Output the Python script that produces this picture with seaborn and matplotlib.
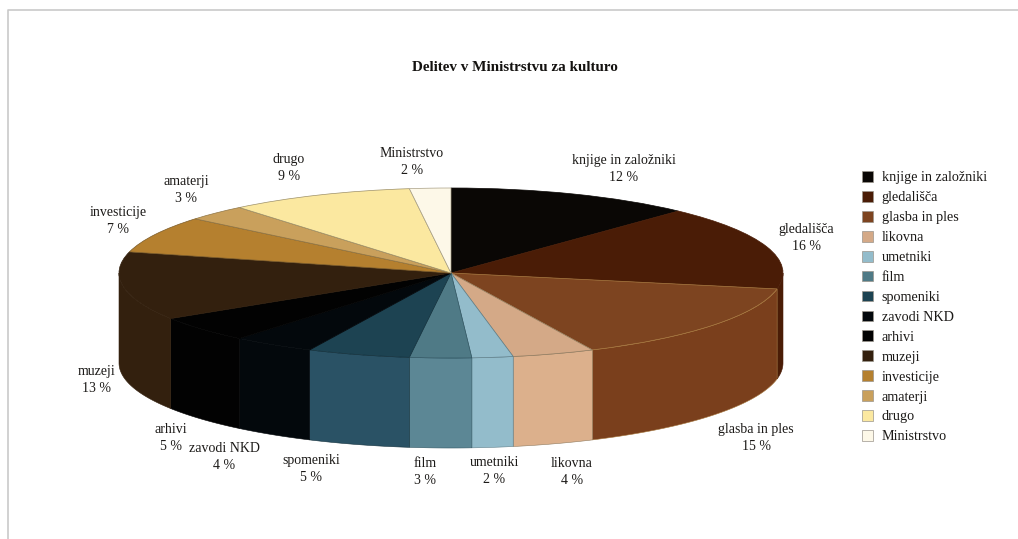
import numpy as np
import matplotlib
matplotlib.use("Agg")
import matplotlib.pyplot as plt
from matplotlib.lines import Line2D
import seaborn as sns

# Budget categories and their shares (percent)
categories = ["knjige in založniki", "gledališča", "glasba in ples", "likovna",
              "umetniki", "film", "spomeniki", "zavodi NKD", "arhivi", "muzeji",
              "investicije", "amaterji", "drugo", "Ministrstvo"]
shares = [12, 16, 15, 4, 2, 3, 5, 4, 5, 13, 7, 3, 9, 2]
title_text = "Delitev v Ministrstvu za kulturo"

top_colors = ["#0a0705", "#4a1c06", "#7d4420", "#d4a987", "#93bccb", "#4f7a86", "#1d4352",
              "#03080c", "#020202", "#33200e", "#b5802f", "#c9a05c", "#fbe8a0", "#fdf8e8"]
wall_colors = ["#0a0705", "#4a1c06", "#7a3f1c", "#dcb08c", "#93bccb", "#5c8795", "#2a5265",
               "#03080c", "#020202", "#33200e", "#b5802f", "#c9a05c", "#fbe8a0", "#fdf8e8"]
rim_colors = ["#0a0705", "#4a1c06", "#a5763c", "#8f7a5e", "#5f7f8a", "#2f5562", "#12303c",
              "#03080c", "#020202", "#33200e", "#7a5a28", "#8f7545", "#9c8f68", "#a89f85"]

W, H = 1018, 539
CX, CY, RX, RY, DEPTH = 451, 273, 332, 85, 90

sns.set_theme(style="white")
plt.rcParams["font.family"] = ["Liberation Serif", "DejaVu Serif"]
fig = plt.figure(figsize=(W / 100, H / 100), dpi=100, facecolor="white")

# Unit-circle axes stretched into an ellipse so the pie lies flat
ax = fig.add_axes([(CX - RX) / W, 1 - (CY + RY) / H, 2 * RX / W, 2 * RY / H])
wedges, _ = ax.pie(shares, colors=sns.color_palette(top_colors), startangle=90, counterclock=False,
                   radius=1, wedgeprops=dict(linewidth=0.5, clip_on=False, zorder=3))
for wedge, rim in zip(wedges, rim_colors):
    wedge.set_edgecolor(rim)
ax.set_aspect("auto")
ax.set_xlim(-1, 1)
ax.set_ylim(-1, 1)

# Side wall of the disc: only the part of each slice facing the viewer
depth_units = DEPTH / RY
edges = np.cumsum([0] + shares) / sum(shares) * 2 * np.pi
for start, stop, color, rim in zip(edges[:-1], edges[1:], wall_colors, rim_colors):
    lo, hi = max(start, np.pi / 2), min(stop, 3 * np.pi / 2)
    if hi <= lo:
        continue
    t = np.linspace(lo, hi, 60)
    xs, ys = np.sin(t), np.cos(t)
    ax.fill(np.r_[xs, xs[::-1]], np.r_[ys, ys[::-1] - depth_units], facecolor=color,
            edgecolor=rim, linewidth=0.4, clip_on=False, zorder=2)

# Slice captions, placed by hand around the disc (pixel centres)
label_anchors = [(624, 169), (806, 238), (756, 438), (572, 472), (494, 471), (425, 472), (311, 469),
                 (224, 457), (171, 438), (97, 380), (118, 221), (186, 190), (289, 168), (412, 162)]
for name, value, (px, py) in zip(categories, shares, label_anchors):
    fig.text(px / W, 1 - py / H, f"{name}\n{value} %", ha="center", va="center",
             fontsize=10, linespacing=1.35, color="#1c1a18")

fig.text(515 / W, 1 - 67 / H, title_text, ha="center", va="center",
         fontsize=10.9, fontweight="bold", color="#141210")

legend = fig.legend(wedges, categories, loc="upper left", bbox_to_anchor=(862 / W, 1 - 171 / H),
                    frameon=False, fontsize=10.2, handlelength=0.8, handleheight=0.8,
                    labelspacing=0.465, handletextpad=0.6, borderpad=0, borderaxespad=0,
                    labelcolor="#1c1a18")
for handle in legend.legend_handles:
    handle.set_edgecolor("#9a958c")

# Thin page rule along the top and left
fig.add_artist(Line2D([8 / W, 8 / W, 1], [0, 1 - 10 / H, 1 - 10 / H], color="#c9c9c9", linewidth=1.2))

fig.savefig("out.png", dpi=100)
